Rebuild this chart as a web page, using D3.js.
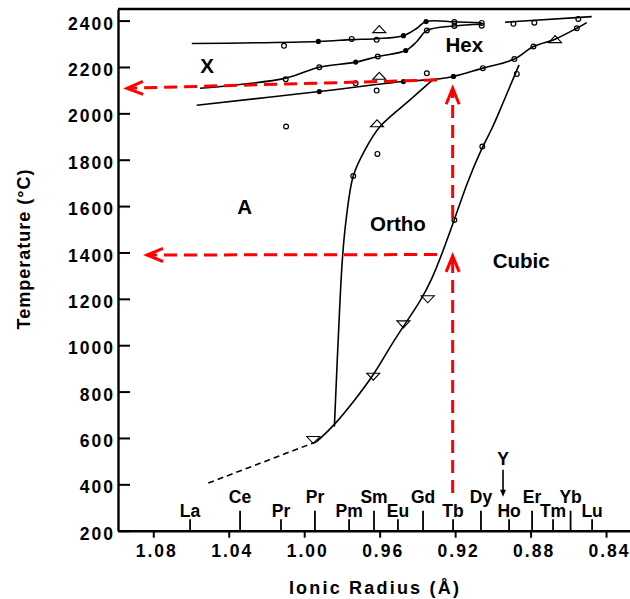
<!DOCTYPE html>
<html>
<head>
<meta charset="utf-8">
<script src="https://cdn.jsdelivr.net/npm/d3@7"></script>
<style>
  html, body { margin: 0; padding: 0; background: #fff; }
  text { font-family: "Liberation Sans", Arial, Helvetica, sans-serif; font-weight: bold; fill: #000; }
</style>
</head>
<body>
<svg id="chart" width="630" height="599"></svg>
<script>
// ---- Axis ticks ----
const yTicks = [200, 400, 600, 800, 1000, 1200, 1400, 1600, 1800, 2000, 2200, 2400];
const xTicks = [1.08, 1.04, 1.00, 0.96, 0.92, 0.88, 0.84];

// ---- Rare-earth ionic radii marked along the axis ----
const elements      = ["La", "Ce", "Pr", "Pr", "Pm", "Sm", "Eu", "Gd", "Tb", "Dy", "Ho", "Er", "Tm", "Yb", "Lu"];
const elementRadius = [1.0605, 1.034, 1.0123, 0.9943, 0.9762, 0.963, 0.9503, 0.937, 0.9211, 0.9063, 0.8914, 0.8792, 0.8681, 0.8588, 0.8474];
const elementRow    = [0, 1, 0, 1, 0, 1, 0, 1, 0, 1, 0, 1, 0, 1, 0];
const yttriumRadius = 0.8946;

// ---- Phase boundaries: [ionic radius (Å), temperature (°C)] ----
const boundaryTop = [[1.0596, 2301], [0.9925, 2310], [0.9748, 2318], [0.9616, 2322], [0.9474, 2335],
                     [0.9403, 2367], [0.9354, 2396], [0.9204, 2395], [0.9059, 2390]];
const boundaryMid = [[1.0552, 2108], [1.0098, 2152], [0.992, 2199], [0.9727, 2221], [0.961, 2245],
                     [0.9462, 2271], [0.9403, 2310], [0.935, 2357], [0.9204, 2377], [0.9059, 2384]];
const boundaryHexRight = [[0.8935, 2393], [0.8476, 2417]];
const boundaryLow = [[1.057, 2035], [0.992, 2094], [0.9474, 2137], [0.928, 2149], [0.9209, 2159],
                     [0.9053, 2195], [0.8886, 2234], [0.8785, 2288], [0.867, 2320], [0.8555, 2367], [0.8502, 2391]];
const boundaryOrthoA = [[0.9322, 2142], [0.9439, 2058], [0.9598, 1943], [0.9678, 1842], [0.974, 1730],
                        [0.9778, 1540], [0.9796, 1389], [0.981, 1195], [0.984, 649]];
const boundaryCubic = [[0.8861, 2209], [0.8962, 2015], [0.9006, 1929], [0.9056, 1857], [0.9138, 1699],
                       [0.9204, 1540], [0.9262, 1411], [0.9324, 1281], [0.9386, 1188], [0.9457, 1102],
                       [0.9545, 994], [0.9625, 879], [0.9731, 764], [0.9846, 649], [0.9934, 584]];
const boundaryExtrapolated = [[0.9934, 584], [1.0526, 400]];

// ---- Measured points ----
const openPoints = [[1.0107, 2291], [0.9748, 2321], [0.9616, 2317], [0.935, 2357], [0.9204, 2394], [0.9204, 2377],
                    [0.9059, 2390], [0.9059, 2378], [0.8891, 2386], [0.878, 2391], [0.8547, 2407],
                    [0.992, 2199], [0.961, 2245], [1.0098, 2147], [0.9727, 2130], [0.9616, 2098], [0.935, 2173],
                    [0.9053, 2195], [0.8886, 2234], [0.8785, 2288], [0.8555, 2367], [0.8873, 2170],
                    [1.0096, 1943], [0.9612, 1825], [0.974, 1730], [0.9056, 1857], [0.9204, 1540]];
const filledPoints = [[0.9925, 2310], [0.9474, 2335], [0.9354, 2396], [0.9727, 2221], [0.9462, 2271],
                      [0.992, 2094], [0.9474, 2137], [0.9209, 2159]];
const heatingPoints = [[0.9602, 2363], [0.9602, 2162], [0.9614, 1957], [0.867, 2320]];
const coolingPoints = [[0.9345, 1198], [0.9474, 1090], [0.9634, 864], [0.9952, 591]];

// ---- Phase field names ----
const phaseNames = ["X", "A", "Ortho", "Hex", "Cubic"];
const phaseAt    = [[1.0515, 2205], [1.0316, 1596], [0.9503, 1523], [0.9151, 2295], [0.885, 1363]];

// ---- Guide arrows (tail, head) for Tb ----
const guideUpperH = [[0.9296, 2144], [1.0939, 2108]];
const guideLowerH = [[0.9296, 1391], [1.0833, 1389]];
const guideLowerV = [[0.9213, 363], [0.9213, 1385]];
const guideUpperV = [[0.9213, 1549], [0.9213, 2108]];

// ---- Layout ----
const svg = d3.select("#chart");
const x = d3.scaleLinear().domain([1.0987, 0.8273]).range([118, 630]);
const y = d3.scaleLinear().domain([200, 2450]).range([530.7, 9]);
const axisY0 = y(200);

const line = d3.line().x(d => x(d[0])).y(d => y(d[1])).curve(d3.curveCatmullRom.alpha(0.5));
const smooth = d3.line().x(d => x(d[0])).y(d => y(d[1])).curve(d3.curveBasis);
const straight = d3.line().x(d => x(d[0])).y(d => y(d[1]));

// Phase boundary curves
const curves = svg.append("g").attr("fill", "none").attr("stroke", "#000").attr("stroke-width", 1.6);
[boundaryTop, boundaryMid, boundaryHexRight, boundaryLow, boundaryOrthoA].forEach(c => {
  curves.append("path").attr("d", line(c));
});
curves.append("path").attr("d", smooth(boundaryCubic));
curves.append("path").attr("d", straight(boundaryExtrapolated)).attr("stroke-dasharray", "6,4");

// Data markers
const marks = svg.append("g");
marks.selectAll("circle.open").data(openPoints).join("circle")
  .attr("class", "open").attr("cx", d => x(d[0])).attr("cy", d => y(d[1])).attr("r", 2.4)
  .attr("fill", "none").attr("stroke", "#000").attr("stroke-width", 1.2);
marks.selectAll("circle.filled").data(filledPoints).join("circle")
  .attr("class", "filled").attr("cx", d => x(d[0])).attr("cy", d => y(d[1])).attr("r", 2.6)
  .attr("fill", "#000");
marks.selectAll("path.up").data(heatingPoints).join("path")
  .attr("class", "up").attr("transform", d => `translate(${x(d[0])},${y(d[1])})`)
  .attr("d", "M-6.5,3.5L6.5,3.5L0,-3.5Z").attr("fill", "none").attr("stroke", "#000").attr("stroke-width", 1.1);
marks.selectAll("path.down").data(coolingPoints).join("path")
  .attr("class", "down").attr("transform", d => `translate(${x(d[0])},${y(d[1])})`)
  .attr("d", "M-6.5,-3.5L6.5,-3.5L0,3.5Z").attr("fill", "none").attr("stroke", "#000").attr("stroke-width", 1.1);

// Phase field labels
svg.append("g").selectAll("text").data(phaseNames).join("text")
  .attr("x", (d, i) => x(phaseAt[i][0])).attr("y", (d, i) => y(phaseAt[i][1]))
  .attr("dy", "0.36em").attr("text-anchor", "middle").attr("font-size", 20.5).text(d => d);

// Red dashed guide arrows
const guides = svg.append("g").attr("stroke", "#ff0000").attr("fill", "none").attr("stroke-width", 3);
[guideUpperH, guideLowerH, guideLowerV, guideUpperV].forEach(g => {
  const x0 = x(g[0][0]), y0 = y(g[0][1]), x1 = x(g[1][0]), y1 = y(g[1][1]);
  guides.append("line").attr("x1", x0).attr("y1", y0).attr("x2", x1).attr("y2", y1)
    .attr("stroke-dasharray", "13,7");
  const ang = Math.atan2(y1 - y0, x1 - x0);
  const back = 16, side = 6.5;
  const bx = x1 - back * Math.cos(ang), by = y1 - back * Math.sin(ang);
  const px = -Math.sin(ang) * side, py = Math.cos(ang) * side;
  guides.append("path")
    .attr("d", `M${bx + px},${by + py}L${x1},${y1}L${bx - px},${by - py}`)
    .attr("stroke-linejoin", "miter");
});

// Axes
const yAxis = d3.axisLeft(y).tickValues(yTicks).tickFormat(d3.format("d"))
  .tickSizeInner(-12).tickSizeOuter(0).tickPadding(3);
const gy = svg.append("g").attr("transform", "translate(118,0)").call(yAxis);
gy.select(".domain").attr("stroke-width", 2.4);
gy.selectAll(".tick line").attr("stroke-width", 2);
gy.selectAll(".tick text").attr("font-size", 17.5).attr("letter-spacing", 2)
  .attr("dy", "0.49em").attr("font-family", null).attr("fill", "#000");

const xAxis = d3.axisBottom(x).tickValues(xTicks).tickFormat(d3.format(".2f"))
  .tickSizeInner(7).tickSizeOuter(0).tickPadding(7);
const gx = svg.append("g").attr("transform", `translate(0,${axisY0})`).call(xAxis);
gx.select(".domain").attr("stroke-width", 2.4);
gx.selectAll(".tick line").attr("stroke-width", 2);
gx.selectAll(".tick text").attr("font-size", 17.5).attr("letter-spacing", 2)
  .attr("dx", 3).attr("font-family", null).attr("fill", "#000");

// Top frame line
svg.append("line").attr("x1", 118).attr("x2", 630).attr("y1", y(2450)).attr("y2", y(2450))
  .attr("stroke", "#000").attr("stroke-width", 2.4);

// Element ticks and names along the radius axis
const el = svg.append("g");
el.selectAll("line").data(elements).join("line")
  .attr("x1", (d, i) => x(elementRadius[i])).attr("x2", (d, i) => x(elementRadius[i]))
  .attr("y1", axisY0).attr("y2", (d, i) => axisY0 - (elementRow[i] ? 20 : 11.5))
  .attr("stroke", "#000").attr("stroke-width", 1.8);
el.selectAll("text").data(elements).join("text")
  .attr("x", (d, i) => x(elementRadius[i])).attr("y", (d, i) => axisY0 - (elementRow[i] ? 28 : 14))
  .attr("text-anchor", "middle").attr("font-size", 17.5).text(d => d);

// Yttrium pointer
const yx = x(yttriumRadius);
el.append("text").attr("x", yx).attr("y", axisY0 - 66).attr("text-anchor", "middle")
  .attr("font-size", 17.5).text("Y");
el.append("line").attr("x1", yx).attr("x2", yx).attr("y1", axisY0 - 61).attr("y2", axisY0 - 39)
  .attr("stroke", "#000").attr("stroke-width", 1.6);
el.append("path").attr("d", `M${yx - 3},${axisY0 - 41}L${yx + 3},${axisY0 - 41}L${yx},${axisY0 - 34}Z`)
  .attr("fill", "#000");

// Axis titles
svg.append("text").attr("x", 375).attr("y", 594).attr("text-anchor", "middle")
  .attr("font-size", 18).attr("letter-spacing", 2.2).text("Ionic Radius (Å)");
svg.append("text").attr("transform", "translate(29.5,249) rotate(-90)").attr("text-anchor", "middle")
  .attr("font-size", 18).attr("letter-spacing", 1).text("Temperature (°C)");
</script>
</body>
</html>
